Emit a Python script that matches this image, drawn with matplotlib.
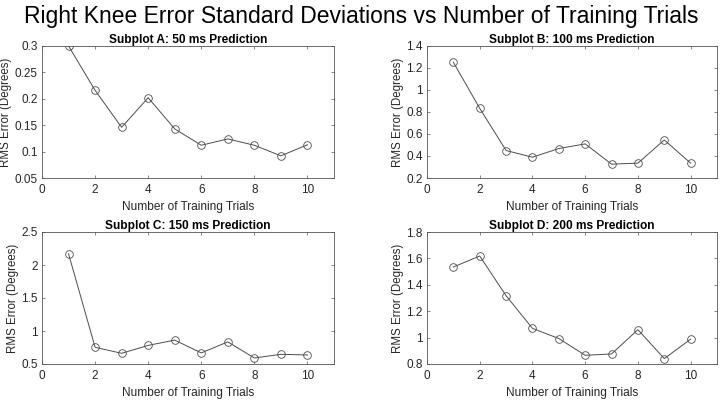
import numpy as np
import matplotlib.pyplot as plt

# ==================================
# Data
# ==================================
trials = [1, 2, 3, 4, 5, 6, 7, 8, 9, 10]

rms_50ms = [0.300, 0.216, 0.146, 0.202, 0.143, 0.112, 0.124, 0.112, 0.092, 0.113]
rms_100ms = [1.252, 0.833, 0.450, 0.389, 0.468, 0.510, 0.326, 0.335, 0.546, 0.335]
rms_150ms = [2.17, 0.753, 0.662, 0.782, 0.862, 0.668, 0.835, 0.591, 0.647, 0.637]
rms_200ms = [1.535, 1.618, 1.317, 1.070, 0.993, 0.866, 0.876, 1.060, 0.841, 0.988]

titles = ["Subplot A: 50 ms Prediction", "Subplot B: 100 ms Prediction",
          "Subplot C: 150 ms Prediction", "Subplot D: 200 ms Prediction"]
ylims = [(0.05, 0.3), (0.2, 1.4), (0.5, 2.5), (0.8, 1.8)]
yticks = [[0.05, 0.1, 0.15, 0.2, 0.25, 0.3],
          [0.2, 0.4, 0.6, 0.8, 1, 1.2, 1.4],
          [0.5, 1, 1.5, 2, 2.5],
          [0.8, 1, 1.2, 1.4, 1.6, 1.8]]
yticklabels = [["0.05", "0.1", "0.15", "0.2", "0.25", "0.3"],
               ["0.2", "0.4", "0.6", "0.8", "1", "1.2", "1.4"],
               ["0.5", "1", "1.5", "2", "2.5"],
               ["0.8", "1", "1.2", "1.4", "1.6", "1.8"]]
series = [rms_50ms, rms_100ms, rms_150ms, rms_200ms]

# ==================================
# Plot (MATLAB-like look)
# ==================================
plt.rcParams["font.family"] = ["Liberation Sans", "DejaVu Sans"]
plt.rcParams["axes.linewidth"] = 0.6

fig = plt.figure(figsize=(7.22, 4.0), dpi=100)
W, H = 722, 400
# axes boxes in pixels: left, top, right, bottom
boxes = [(42, 46, 334, 178), (427, 46, 717, 178),
         (42, 232, 334, 364), (427, 232, 717, 364)]

axis_col = "#555555"
text_col = "#262626"
for box, ttl, yl, yt, ytl, vals in zip(boxes, titles, ylims, yticks, yticklabels, series):
    l, t, r, b = box
    ax = fig.add_axes([l / W, 1 - b / H, (r - l) / W, (b - t) / H])
    ax.plot(trials, vals, color="#4d4d4d", lw=0.7, marker="o", ms=5.5,
            mfc="none", mec="#4d4d4d", mew=0.6)
    ax.set_xlim(0, 11)
    ax.set_ylim(*yl)
    ax.set_xticks([0, 2, 4, 6, 8, 10])
    ax.set_yticks(yt)
    ax.set_yticklabels(ytl)
    ax.tick_params(direction="in", length=2.5, width=0.5, colors=axis_col,
                   labelsize=8.5, top=True, right=True, pad=3)
    ax.tick_params(axis="x", pad=4.5)
    for tl in ax.get_xticklabels() + ax.get_yticklabels():
        tl.set_color(text_col)
    for sp in ax.spines.values():
        sp.set_color(axis_col)
    ax.set_title(ttl, fontsize=8.6, fontweight="bold", pad=2.5)
    ax.set_xlabel("Number of Training Trials", fontsize=8.6, color=text_col, labelpad=3.5)
    ax.set_ylabel("RMS Error (Degrees)", fontsize=8.3, color=text_col, labelpad=2)

fig.suptitle("Right Knee Error Standard Deviations vs Number of Training Trials",
             fontsize=16.5, y=0.987, va="top")

plt.savefig("out.png", dpi=100)
